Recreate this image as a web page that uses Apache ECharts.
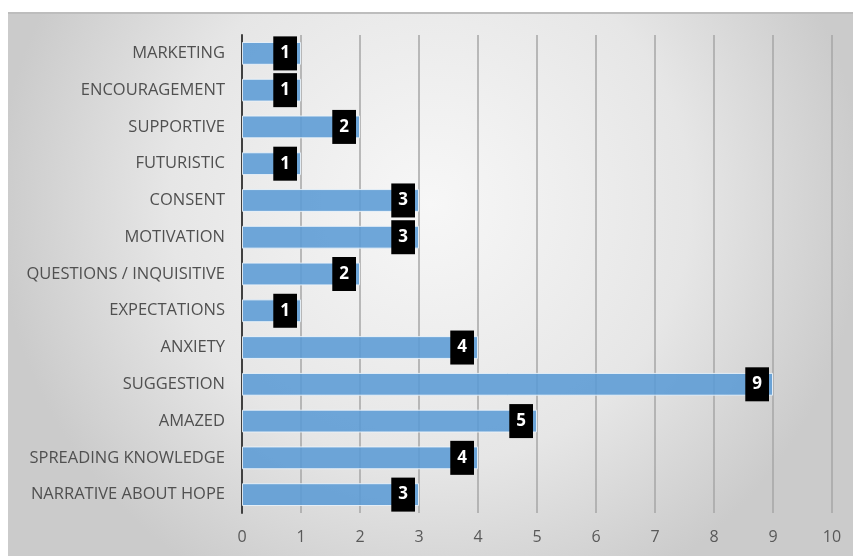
<!DOCTYPE html>
<html>
<head>
<meta charset="utf-8">
<script src="https://cdn.jsdelivr.net/npm/echarts@6/dist/echarts.min.js"></script>
<style>
  html, body { margin: 0; padding: 0; background: #fff; }
  #chart {
    position: absolute;
    left: 8px;
    top: 12px;
    width: 845px;
    height: 542px;
    border-top: 2px solid #bdbdbd;
  }
</style>
</head>
<body>
<div id="chart"></div>
<script>
// bottom to top, as the category axis draws them
const categories = [
  'NARRATIVE ABOUT HOPE',
  'SPREADING KNOWLEDGE',
  'AMAZED',
  'SUGGESTION',
  'ANXIETY',
  'EXPECTATIONS',
  'QUESTIONS / INQUISITIVE',
  'MOTIVATION',
  'CONSENT',
  'FUTURISTIC',
  'SUPPORTIVE',
  'ENCOURAGEMENT',
  'MARKETING'
]
const counts = [3, 4, 5, 9, 4, 1, 2, 3, 3, 1, 2, 1, 1]
const xTicks = [0, 1, 2, 3, 4, 5, 6, 7, 8, 9, 10]

const font = 'Open Sans, sans-serif'

const chart = echarts.init(document.getElementById('chart'))
chart.setOption({
  backgroundColor: {
    type: 'radial',
    x: 0.5,
    y: 0.35,
    r: 0.8,
    colorStops: [
      { offset: 0, color: '#f7f7f7' },
      { offset: 0.6, color: '#e6e6e6' },
      { offset: 1, color: '#cbcbcb' }
    ]
  },
  grid: {
    left: 234,
    right: 21,
    top: 21,
    bottom: 43,
    containLabel: false
  },
  xAxis: {
    type: 'value',
    min: xTicks[0],
    max: xTicks[xTicks.length - 1],
    interval: 1,
    axisLine: { show: false },
    axisTick: { show: false },
    axisLabel: {
      color: '#595959',
      fontSize: 16,
      fontFamily: font,
      margin: 16
    },
    splitLine: {
      lineStyle: { color: '#a6a6a6', width: 1.5 }
    }
  },
  yAxis: {
    type: 'category',
    data: categories,
    axisLine: {
      lineStyle: { color: '#404040', width: 2 }
    },
    axisTick: { show: false },
    axisLabel: {
      color: '#505050',
      fontSize: 16.5,
      fontFamily: font,
      margin: 17
    }
  },
  series: [{
    type: 'bar',
    data: counts,
    barWidth: '62%',
    itemStyle: {
      color: 'rgba(91,155,213,0.88)',
      borderColor: 'rgba(235,243,250,0.9)',
      borderWidth: 1
    },
    label: {
      show: true,
      position: 'insideRight',
      distance: 4,
      color: '#fff',
      fontWeight: 'bold',
      fontSize: 17,
      lineHeight: 17,
      fontFamily: 'Open Sans, sans-serif',
      backgroundColor: '#000',
      padding: [9, 7, 8, 7]
    },
    silent: true,
    animation: false
  }]
})
</script>
</body>
</html>
